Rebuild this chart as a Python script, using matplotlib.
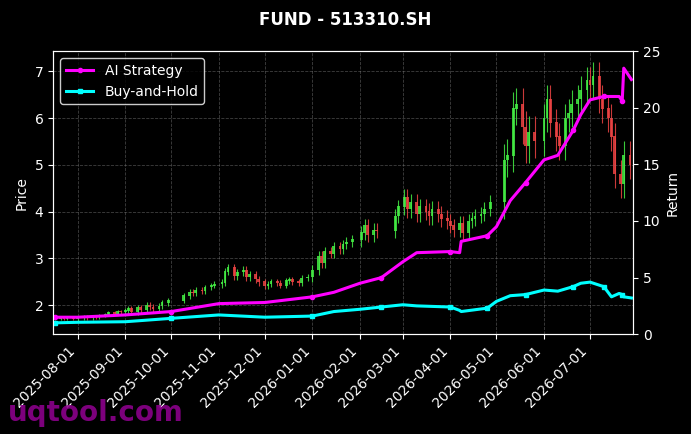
import matplotlib.pyplot as plt
import matplotlib.dates as mdates
import pandas as pd
import numpy as np

# candle closes, sampled every other trading day per month
closes = {
    '2025-07': [1.70, 1.71, 1.70, 1.72, 1.71],
    '2025-08': [1.72, 1.74, 1.73, 1.76, 1.75, 1.78, 1.80, 1.84, 1.82, 1.86, 1.85],
    '2025-09': [1.88, 1.92, 1.86, 1.95, 1.90, 2.00, 1.96, 1.92, 1.98, 2.05, 2.10],
    '2025-10': [2.20, 2.28, 2.25, 2.32, 2.30, 2.38, 2.42, 2.45],
    '2025-11': [2.48, 2.72, 2.80, 2.62, 2.70, 2.75, 2.60, 2.66, 2.55, 2.50, 2.46],
    '2025-12': [2.40, 2.45, 2.50, 2.47, 2.42, 2.52, 2.55, 2.50, 2.48, 2.58, 2.60],
    '2026-01': [2.75, 3.05, 2.90, 3.15, 3.10, 3.25, 3.20, 3.30, 3.35, 3.40],
    '2026-02': [3.55, 3.70, 3.50, 3.60, 3.58, 3.90, 4.10],
    '2026-03': [4.30, 4.05, 4.20, 3.95, 4.10, 4.00, 3.90, 4.05, 3.95, 3.85, 3.80],
    '2026-04': [3.70, 3.60, 3.75, 3.55, 3.80, 3.85, 3.90, 3.95, 4.05, 4.20],
    '2026-05': [5.10, 5.20, 6.20, 6.30, 5.80, 5.40, 5.70, 5.50],
    '2026-06': [6.00, 6.40, 5.90, 5.60, 5.40, 6.00, 6.10, 6.30, 6.40, 6.60, 6.80],
    '2026-07': [6.70, 6.90, 6.40, 6.20, 6.00, 5.60, 4.80, 4.60, 5.20, 5.00],
}
wick = {'2025-07': 0.02, '2025-08': 0.04, '2025-09': 0.06, '2025-10': 0.06,
        '2025-11': 0.08, '2025-12': 0.06, '2026-01': 0.10, '2026-02': 0.15,
        '2026-03': 0.18, '2026-04': 0.15, '2026-05': 0.35, '2026-06': 0.30,
        '2026-07': 0.30}
holidays = [('2025-10-01', '2025-10-08'), ('2026-02-14', '2026-02-23'), ('2026-05-01', '2026-05-05')]

# strategy curves (cumulative return) at anchor dates
ret_dates = ['2025-07-17', '2025-08-01', '2025-09-01', '2025-10-01', '2025-11-01', '2025-12-01',
             '2026-01-01', '2026-01-15', '2026-02-01', '2026-02-15', '2026-03-01', '2026-03-10',
             '2026-04-01', '2026-04-07', '2026-04-08', '2026-04-25', '2026-05-01', '2026-05-10',
             '2026-05-20', '2026-06-01', '2026-06-10', '2026-06-20', '2026-06-25', '2026-07-01',
             '2026-07-10', '2026-07-15', '2026-07-20', '2026-07-22', '2026-07-23', '2026-07-28']
ai_strategy = [1.5, 1.5, 1.7, 2.0, 2.7, 2.8, 3.3, 3.7, 4.5, 5.0, 6.4, 7.2,
               7.3, 7.2, 8.2, 8.7, 9.5, 11.8, 13.4, 15.4, 15.8, 18.0, 19.4, 20.7,
               21.0, 21.0, 21.0, 20.6, 23.5, 22.5]
buy_hold = [1.0, 1.05, 1.1, 1.4, 1.7, 1.5, 1.6, 2.0, 2.2, 2.4, 2.6, 2.5,
            2.4, 2.1, 2.0, 2.3, 2.9, 3.4, 3.5, 3.9, 3.8, 4.2, 4.5, 4.6,
            4.2, 3.3, 3.6, 3.5, 3.3, 3.2]

# build candle rows
rows = []
prev = None
for month, vals in closes.items():
    start = pd.Timestamp(month + '-01')
    if month == '2025-07':
        start = pd.Timestamp('2025-07-17')
    days = pd.bdate_range(start, start + pd.offsets.MonthEnd(0))
    for a, b in holidays:
        days = days[(days < a) | (days > b)]
    for d, c in zip(days[::2], vals):
        o = c if prev is None else prev
        rows.append((d, o, c, max(o, c) + wick[month], min(o, c) - wick[month]))
        prev = c
df = pd.DataFrame(rows, columns=['date', 'open', 'close', 'high', 'low'])

plt.style.use('dark_background')
fig, ax = plt.subplots(figsize=(6.91, 4.34), dpi=100)
fig.subplots_adjust(left=0.077, right=0.916, top=0.882, bottom=0.23)

up_col, dn_col = '#44ee44', '#ee4444'
for _, r in df.iterrows():
    col = up_col if r.close >= r.open else dn_col
    ax.vlines(r.date, r.low, r.high, color=col, linewidth=0.8, alpha=0.85)
    ax.bar(r.date, abs(r.close - r.open) + 0.01, bottom=min(r.open, r.close),
           width=1.8, color=col, alpha=0.85)

ax.set_ylim(1.38, 7.43)
ax.set_ylabel('Price', color='white')
ax.grid(True, linestyle='--', color='gray', alpha=0.5, linewidth=0.6)

ax2 = ax.twinx()
rd = pd.to_datetime(ret_dates)
ax2.plot(rd, ai_strategy, color='magenta', linewidth=2.2, marker='o', markersize=3,
         markevery=3, label='AI Strategy')
ax2.plot(rd, buy_hold, color='cyan', linewidth=2.2, marker='s', markersize=3,
         markevery=3, label='Buy-and-Hold')
ax2.set_ylim(0, 25)
ax2.set_ylabel('Return', color='white')
ax2.legend(loc='upper left', facecolor='black', edgecolor='white', fontsize=10)

ax.set_xlim(pd.Timestamp('2025-07-16'), pd.Timestamp('2026-07-29'))
ax.xaxis.set_major_locator(mdates.MonthLocator())
ax.xaxis.set_major_formatter(mdates.DateFormatter('%Y-%m-%d'))
plt.setp(ax.get_xticklabels(), rotation=45, ha='right')

fig.suptitle('FUND - 513310.SH', fontweight='bold', fontsize=12, color='white', y=0.975)
fig.text(0.012, 0.03, 'uqtool.com', fontsize=20, fontweight='bold', color='#8b008b', alpha=0.9)

fig.savefig('out.png', dpi=100)
